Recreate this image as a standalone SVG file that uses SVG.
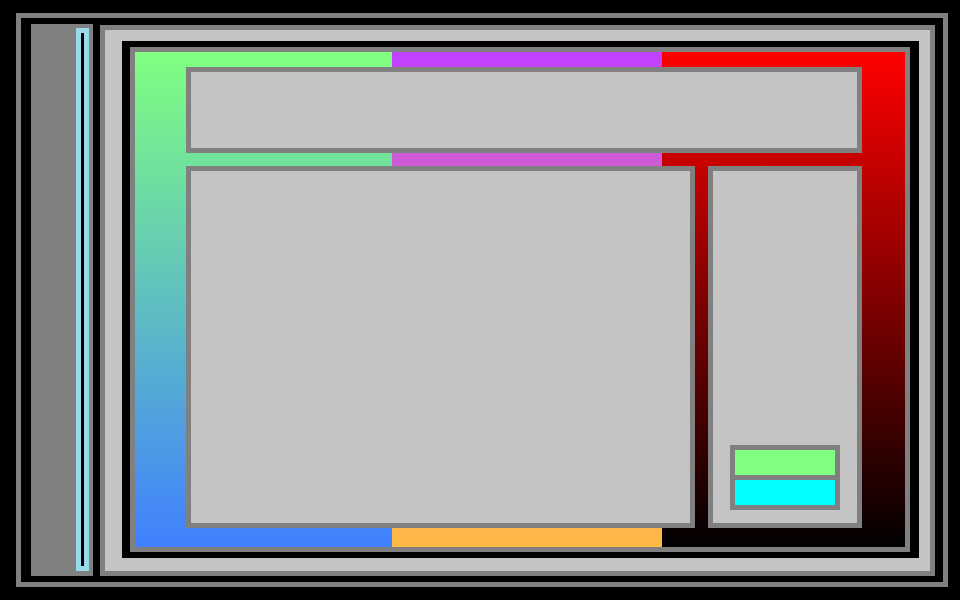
<svg xmlns="http://www.w3.org/2000/svg" width="960" height="600" viewBox="0 0 960 600">
  <defs>
    <linearGradient id="gLeft" gradientUnits="userSpaceOnUse" x1="0" y1="52" x2="0" y2="547">
      <stop offset="0" stop-color="#80FF80"/>
      <stop offset="1" stop-color="#4080FF"/>
    </linearGradient>
    <linearGradient id="gMid" gradientUnits="userSpaceOnUse" x1="0" y1="52" x2="0" y2="547">
      <stop offset="0" stop-color="#C040FF"/>
      <stop offset="1" stop-color="#FFBB44"/>
    </linearGradient>
    <linearGradient id="gRight" gradientUnits="userSpaceOnUse" x1="0" y1="52" x2="0" y2="547">
      <stop offset="0" stop-color="#FF0000"/>
      <stop offset="1" stop-color="#000000"/>
    </linearGradient>
  </defs>
  <style>
    .frame { fill: none; stroke: #808080; stroke-width: 5; }
    .box { fill: #C4C4C4; stroke: #808080; stroke-width: 5; }
  </style>
  <rect x="0" y="0" width="960" height="600" fill="#000000"/>
  <g id="outer-frame">
    <rect class="frame" x="18.5" y="15.5" width="927" height="569"/>
  </g>
  <g id="sidebar">
    <rect x="31" y="24" width="62" height="552" fill="#808080"/>
    <rect x="76" y="28" width="13" height="543" fill="#9ADBEB"/>
    <rect x="81" y="33" width="3" height="533" fill="#000000"/>
  </g>
  <g id="main-panel">
    <rect class="box" x="102.5" y="27.5" width="830" height="546"/>
    <rect x="122" y="41" width="797" height="517" fill="#000000"/>
  </g>
  <g id="gradient-panel">
    <rect x="135" y="52" width="257" height="495" fill="url(#gLeft)"/>
    <rect x="392" y="52" width="270" height="495" fill="url(#gMid)"/>
    <rect x="662" y="52" width="243" height="495" fill="url(#gRight)"/>
    <rect class="frame" x="132.5" y="49.5" width="775" height="500"/>
  </g>
  <g id="header">
    <rect class="box" x="188.5" y="69.5" width="671" height="81"/>
  </g>
  <g id="content">
    <rect class="box" x="188.5" y="168.5" width="504" height="357"/>
  </g>
  <g id="side-panel">
    <rect class="box" x="710.5" y="168.5" width="149" height="357"/>
  </g>
  <g id="swatches">
    <rect x="730" y="445" width="110" height="65" fill="#808080"/>
    <rect x="735" y="450" width="100" height="25" fill="#80FF80"/>
    <rect x="735" y="480" width="100" height="25" fill="#00FFFF"/>
  </g>
  <g id="connectors"/>
</svg>
